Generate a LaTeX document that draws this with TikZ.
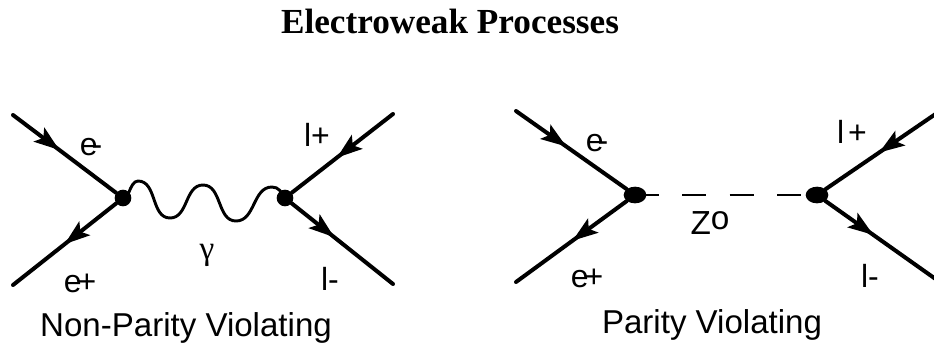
\documentclass[tikz,border=0pt]{standalone}
\usepackage{fontspec}
\usepackage{tikz}
\usetikzlibrary{arrows.meta,decorations.markings,shapes.geometric}
\setmainfont{Liberation Sans}
\newfontfamily\titlefont{Liberation Serif}
\tikzset{
	fermion/.style={draw,line width=3pt,line cap=round,decoration={markings,mark=at position #1 with {\arrow{Stealth[length=19pt,width=13pt,inset=4pt]}}},postaction={decorate}},
	vertexdot/.style={circle,fill=black,inner sep=0pt,minimum size=12.5pt},
	vertexoval/.style={ellipse,fill=black,inner sep=0pt,minimum width=17pt,minimum height=12.5pt},
	photon/.style={line width=2.2pt},
	zboson/.style={line width=1.4pt,dash pattern=on 18pt off 17.5pt},
	particle/.style={font=\fontsize{24}{26}\selectfont,inner sep=0pt},
	caption/.style={font=\fontsize{24.8}{28}\selectfont,inner sep=0pt}
}
\begin{document}
\begin{tikzpicture}[x=0.75pt,y=-0.75pt]
	\useasboundingbox (0,0) rectangle (934,344);
	\node[inner sep=0pt,font=\titlefont\bfseries\fontsize{26.4}{30}\selectfont] (title) at (450,21.5) {Electroweak Processes};
	% photon exchange
	\node[vertexdot] (leftin) at (123,198) {};
	\node[vertexdot] (leftout) at (285,198) {};
	\coordinate (eminusa) at (13,115);
	\coordinate (eplusa) at (13,285);
	\coordinate (lplusa) at (393,114);
	\coordinate (lminusa) at (393,284);
	\coordinate (peaka) at (138,181);
	\coordinate (trougha) at (170,218);
	\coordinate (peakb) at (203,185);
	\coordinate (troughb) at (236,221);
	\coordinate (peakc) at (272,187);
	\path
	(eminusa) edge[fermion=.45] (leftin)
	(leftin) edge[fermion=.5] (eplusa)
	(lplusa) edge[fermion=.555] (leftout)
	(leftout) edge[fermion=.42] (lminusa);
	\draw[photon] (leftin.center) to[out=-60,in=180] (peaka) to[out=0,in=180] (trougha) to[out=0,in=180] (peakb) to[out=0,in=180] (troughb) to[out=0,in=180] (peakc) to[out=0,in=120] (leftout.center);
	\node[particle] (eminuslabel) at (91,147) {e\kern-4.5pt-};
	\node[particle] (epluslabel) at (80,283) {e\kern-3pt+};
	\node[particle] (lpluslabel) at (317,135) {l+};
	\node[particle] (lminuslabel) at (330,279) {l-};
	\node[particle,font=\titlefont\fontsize{25}{27}\selectfont] (gammalabel) at (207,255) {γ};
	\node[caption] (nonparity) at (186,328) {Non-Parity Violating};
	% Z exchange
	\node[vertexoval] (rightin) at (635,195) {};
	\node[vertexoval] (rightout) at (817,195) {};
	\coordinate (eminusb) at (516,111);
	\coordinate (eplusb) at (516,282);
	\coordinate (lplusb) at (937,113);
	\coordinate (lminusb) at (937,280);
	\path
	(eminusb) edge[fermion=.455] (rightin)
	(rightin) edge[fermion=.49] (eplusb)
	(lplusb) edge[fermion=.52] (rightout)
	(rightout) edge[fermion=.43] (lminusb);
	\draw[zboson] (rightin.center) -- (rightout.center);
	\node[particle] (eminuslabelb) at (597,143) {e\kern-4.5pt-};
	\node[particle] (epluslabelb) at (587,278) {e\kern-3pt+};
	\node[particle] (lpluslabelb) at (852,132) {l\kern3pt+};
	\node[particle] (lminuslabelb) at (870,276) {l-};
	\node[particle,font=\fontsize{25}{27}\selectfont] (zlabel) at (710,223) {Z\raisebox{3.75pt}{o}};
	\node[caption] (parity) at (712,325) {Parity Violating};
\end{tikzpicture}
\end{document}
